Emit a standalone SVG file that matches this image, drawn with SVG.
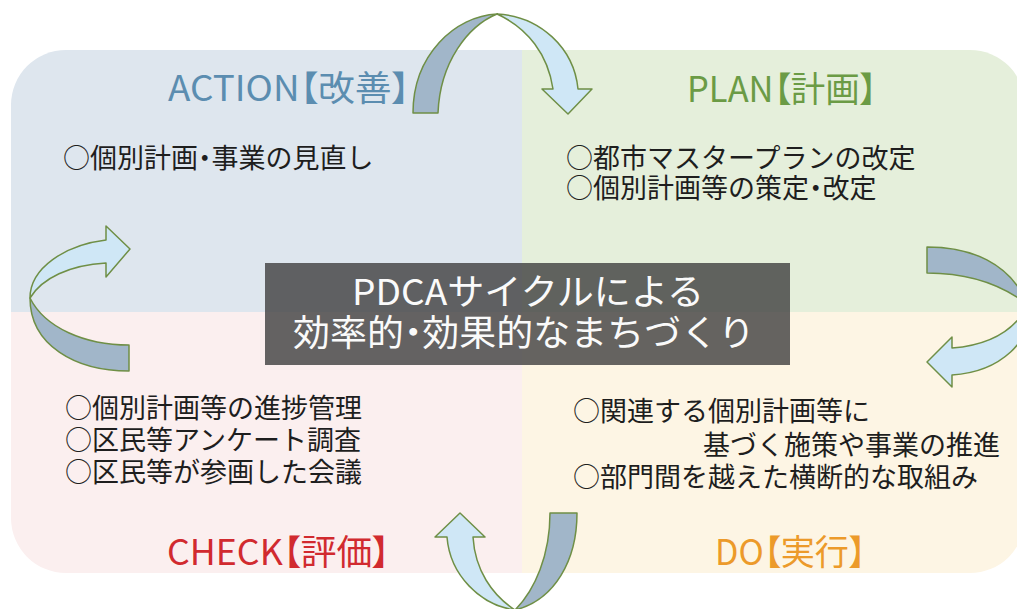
<svg xmlns="http://www.w3.org/2000/svg" width="1017" height="609" viewBox="0 0 1017 609">
<style>
.body{font-family:"Noto Sans CJK JP","Noto Sans",sans-serif;font-size:27px;fill:#1e1e1e}
.lbl{font-family:"Noto Sans CJK JP","Noto Sans",sans-serif;font-size:35px;font-feature-settings:"palt"}
.ttl{font-family:"Noto Sans CJK JP","Noto Sans",sans-serif;font-size:36px;fill:#fafafa;text-anchor:middle}
.p{font-feature-settings:"palt"}
.back{fill:#a1b6c9;stroke:#6f8f46;stroke-width:1.5;stroke-linejoin:round}
.front{fill:#cfe7f6;stroke:#6f8f46;stroke-width:1.5;stroke-linejoin:round}
</style>
<defs>
<clipPath id="box"><rect x="11" y="50" width="1014" height="523" rx="55" ry="55"/></clipPath>
</defs>
<rect width="1017" height="609" fill="#ffffff"/>
<g clip-path="url(#box)">
<g id="action"><rect x="0" y="40" width="522" height="272" fill="#dee6ee"/></g>
<g id="plan"><rect x="522" y="40" width="510" height="272" fill="#e5efdb"/></g>
<g id="check"><rect x="0" y="312" width="522" height="270" fill="#fbefef"/></g>
<g id="do"><rect x="522" y="312" width="510" height="270" fill="#fdf5e4"/></g>
</g>
<g id="action-text">
<text class="lbl" x="168" y="101" fill="#5b8db0" textLength="242" lengthAdjust="spacingAndGlyphs">ACTION【改善】</text>
<text class="body" x="63" y="168" font-size="26.5">○個別計画<tspan class="p">・</tspan>事業の見直し</text>
</g>
<g id="plan-text">
<text class="lbl" x="687" y="102" fill="#6b9b45" textLength="190" lengthAdjust="spacingAndGlyphs">PLAN【計画】</text>
<text class="body" x="566" y="168" font-size="26.5">○都市マスタープランの改定</text>
<text class="body" x="566" y="198" font-size="26.5">○個別計画等の策定<tspan class="p">・</tspan>改定</text>
</g>
<g id="check-text">
<text class="body" x="65" y="418">○個別計画等の進捗管理</text>
<text class="body" x="65" y="450">○区民等アンケート調査</text>
<text class="body" x="65" y="482">○区民等が参画した会議</text>
<text class="lbl" x="167" y="565" fill="#d12a2f" textLength="223" lengthAdjust="spacingAndGlyphs">CHECK【評価】</text>
</g>
<g id="do-text">
<text class="body" x="573" y="421">○関連する個別計画等に</text>
<text class="body" x="703" y="455">基づく施策や事業の推進</text>
<text class="body" x="573" y="487">○部門間を越えた横断的な取組み</text>
<text class="lbl" x="715" y="565" fill="#ec9a2a" textLength="151" lengthAdjust="spacingAndGlyphs">DO【実行】</text>
</g>
<g id="center">
<rect x="265" y="263" width="525" height="102" fill="#3f3f3f" fill-opacity="0.8"/>
<text class="ttl" x="528" y="305" textLength="352" lengthAdjust="spacingAndGlyphs">PDCAサイクルによる</text>
<text class="ttl" x="524" y="346" textLength="462" lengthAdjust="spacingAndGlyphs">効率的<tspan class="p">・</tspan>効果的なまちづくり</text>
</g>
<g id="connectors">
<g id="arrow-act-plan">
<path class="back" d="M413,113 C413,55 455,16 497,14 C468,26 440,62 438,113 Z"/>
<path class="front" d="M497,14 C540,16 574,48 578,89 L592,89 L568,114 L542,89 L553,89 C548,55 528,28 497,14 Z"/>
</g>
<g id="arrow-plan-do">
<path class="back" d="M927,247 C970,247 1010,262 1028,305 C1000,283 965,273 927,273 Z"/>
<path class="front" d="M1028,305 C1035,340 1000,372 952,375 L952,387 L927,362 L952,337 L952,348 C990,345 1015,330 1028,305 Z"/>
</g>
<g id="arrow-do-check">
<path class="back" d="M577,513 C577,560 555,600 515,610 C535,590 550,555 550,513 Z"/>
<path class="front" d="M515,610 C480,605 450,575 447,537 L435,537 L460,513 L485,537 L473,537 C475,570 492,595 515,610 Z"/>
</g>
<g id="arrow-check-act">
<path class="back" d="M129,371 C75,371 30,345 30,298 C45,328 85,345 129,345 Z"/>
<path class="front" d="M30,298 C30,268 65,245 106,240 L106,226 L130,249 L106,277 L106,263 C70,265 42,278 30,298 Z"/>
</g>
</g>
</svg>
